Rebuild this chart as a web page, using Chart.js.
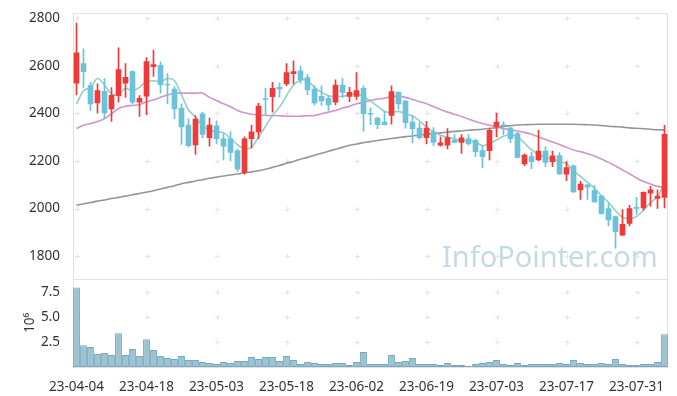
<!DOCTYPE html>
<html>
<head>
<meta charset="utf-8">
<script src="https://cdn.jsdelivr.net/npm/chart.js@4.4.0/dist/chart.umd.min.js"></script>
<style>
  html, body { margin: 0; padding: 0; background: #fff; }
  #wrap { width: 677px; height: 396px; }
</style>
</head>
<body>
<div id="wrap"><canvas id="stock-chart"></canvas></div>
<script>
const dates = [
  '23-04-04','23-04-05','23-04-06','23-04-07','23-04-10','23-04-11','23-04-12','23-04-13','23-04-14','23-04-17',
  '23-04-18','23-04-19','23-04-20','23-04-21','23-04-24','23-04-25','23-04-26','23-04-27','23-04-28','23-05-02',
  '23-05-03','23-05-04','23-05-08','23-05-09','23-05-10','23-05-11','23-05-12','23-05-15','23-05-16','23-05-17',
  '23-05-18','23-05-19','23-05-22','23-05-23','23-05-24','23-05-25','23-05-26','23-05-30','23-05-31','23-06-01',
  '23-06-02','23-06-05','23-06-07','23-06-08','23-06-09','23-06-12','23-06-13','23-06-14','23-06-15','23-06-16',
  '23-06-19','23-06-20','23-06-21','23-06-22','23-06-23','23-06-26','23-06-27','23-06-28','23-06-29','23-06-30',
  '23-07-03','23-07-04','23-07-05','23-07-06','23-07-07','23-07-10','23-07-11','23-07-12','23-07-13','23-07-14',
  '23-07-17','23-07-18','23-07-19','23-07-20','23-07-21','23-07-24','23-07-25','23-07-26','23-07-27','23-07-28',
  '23-07-31','23-08-01','23-08-02','23-08-03','23-08-04'
];
const xTickLabels = ['23-04-04','23-04-18','23-05-03','23-05-18','23-06-02','23-06-19','23-07-03','23-07-17','23-07-31'];
const priceTicks = [1800, 2000, 2200, 2400, 2600, 2800];
const volumeTicks = [2.5, 5.0, 7.5];

const open = [
  2527,2609,2517,2444,2492,2419,2474,2527,2575,2447, 2472,2596,2602,2522,2502,2422,2351,2267,2398,2298,
  2347,2293,2293,2243,2151,2294,2322,2462,2470,2510, 2523,2567,2578,2550,2502,2471,2463,2447,2519,2471,
  2471,2505,2400,2380,2363,2391,2488,2451,2363,2338, 2298,2322,2266,2266,2287,2278,2294,2287,2243,2243,
  2345,2352,2338,2315,2187,2218,2204,2241,2197,2222, 2144,2179,2078,2100,2077,2052,2000,1966,1888,1938,
  2005,2003,2065,2042,2047
];
const high = [
  2779,2671,2530,2524,2546,2508,2675,2609,2578,2474, 2634,2666,2616,2567,2512,2440,2377,2391,2405,2380,
  2368,2315,2322,2250,2301,2350,2442,2505,2530,2528, 2609,2620,2600,2564,2516,2516,2474,2541,2546,2509,
  2571,2516,2423,2383,2408,2516,2490,2456,2391,2361, 2366,2340,2301,2336,2311,2311,2311,2292,2266,2336,
  2401,2365,2340,2320,2230,2236,2329,2260,2241,2235, 2197,2183,2114,2102,2097,2054,2021,1968,1996,2013,
  2047,2070,2093,2079,2350
];
const low = [
  2477,2509,2412,2401,2377,2366,2447,2467,2440,2387, 2394,2555,2485,2440,2377,2269,2259,2227,2297,2262,
  2271,2204,2200,2156,2144,2255,2294,2395,2405,2468, 2516,2523,2527,2478,2435,2433,2412,2435,2467,2449,
  2458,2325,2352,2336,2350,2354,2416,2338,2276,2291, 2271,2264,2262,2250,2276,2232,2266,2218,2172,2204,
  2301,2310,2277,2213,2180,2167,2200,2176,2176,2143, 2117,2068,2038,2038,2026,1976,1927,1834,1886,1927,
  1975,1992,2010,2000,2003
];
const close = [
  2654,2575,2440,2496,2402,2476,2584,2551,2447,2463, 2617,2605,2519,2519,2419,2343,2264,2376,2311,2351,
  2294,2262,2236,2165,2293,2322,2430,2458,2505,2502, 2571,2575,2541,2498,2444,2452,2435,2519,2488,2488,
  2495,2398,2396,2352,2352,2491,2440,2361,2336,2298, 2338,2278,2276,2298,2278,2297,2273,2239,2218,2329,
  2363,2348,2294,2215,2225,2197,2241,2194,2221,2145, 2172,2070,2103,2090,2028,1978,1952,1903,1934,2000,
  2001,2068,2079,2052,2312
];
// volume, in millions
const volume = [
  8.0,2.2,2.0,1.3,1.4,1.2,3.4,1.2,1.8,1.1, 2.8,1.7,1.1,0.9,0.8,1.1,0.7,0.7,0.5,0.4,
  0.3,0.5,0.4,0.6,0.6,1.0,0.8,1.0,1.0,0.6, 1.1,0.7,0.3,0.5,0.4,0.3,0.3,0.4,0.4,0.2,
  0.5,1.5,0.3,0.3,0.3,1.2,0.5,0.6,0.9,0.3, 0.3,0.3,0.2,0.4,0.2,0.2,0.1,0.3,0.4,0.5,
  0.7,0.3,0.2,0.4,0.2,0.3,0.3,0.3,0.3,0.4, 0.3,0.7,0.4,0.3,0.3,0.4,0.3,0.8,0.3,0.2,
  0.2,0.3,0.3,0.5,3.3
];
const ma5 = [
  2440,2495,2509,2546,2519,2481,2481,2505,2495,2509, 2534,2537,2532,2546,2537,2478,2415,2384,2347,2329,
  2322,2319,2294,2268,2252,2257,2300,2345,2391,2426, 2474,2519,2539,2537,2509,2488,2474,2471,2471,2477,
  2481,2470,2452,2430,2408,2404,2408,2398,2390,2368, 2342,2322,2308,2300,2292,2286,2285,2279,2264,2274,
  2288,2304,2311,2300,2275,2246,2228,2214,2208,2198, 2188,2159,2135,2110,2085,2053,2026,1991,1964,1957,
  1966,1994,2025,2050,2105
];
const ma20 = [
  2336,2350,2357,2366,2377,2398,2420,2430,2433,2436, 2449,2456,2467,2477,2484,2485,2485,2485,2485,2467,
  2454,2440,2428,2412,2402,2396,2393,2391,2391,2390, 2388,2388,2388,2390,2391,2398,2405,2412,2422,2430,
  2440,2447,2454,2460,2463,2470,2471,2467,2458,2449, 2440,2428,2416,2405,2396,2387,2376,2366,2357,2350,
  2343,2336,2330,2326,2320,2312,2301,2290,2280,2269, 2257,2246,2239,2230,2221,2208,2194,2179,2162,2146,
  2128,2114,2103,2093,2089
];
const ma120 = [
  2014,2020,2025,2031,2036,2042,2047,2052,2058,2063, 2069,2075,2082,2089,2096,2104,2110,2116,2121,2127,
  2132,2137,2141,2145,2149,2154,2159,2165,2173,2181, 2190,2198,2207,2215,2224,2232,2241,2249,2257,2266,
  2271,2277,2281,2286,2290,2294,2298,2302,2305,2309, 2312,2315,2318,2321,2324,2326,2329,2331,2333,2337,
  2340,2345,2348,2351,2352,2353,2354,2354,2354,2354, 2354,2354,2353,2352,2351,2349,2346,2344,2342,2339,
  2337,2335,2333,2331,2330
];

const UP = '#f03a3a';
const DOWN = '#6cc3d9';
const candleColors = close.map((c, i) => c >= open[i] ? UP : DOWN);
const FONT = { family: "'Noto Sans', 'Open Sans', sans-serif", size: 13.5 };

const framePlugin = {
  id: 'frame',
  beforeDatasetsDraw(chart) {
    const { ctx, chartArea: a, scales } = chart;
    ctx.save();

    // watermark
    ctx.font = "100px 'Noto Sans', sans-serif";
    const w = ctx.measureText('InfoPointer.com').width;
    const size = 100 * 216 / w;
    ctx.font = size + "px 'Noto Sans', sans-serif";
    ctx.fillStyle = 'rgba(150, 188, 208, 0.55)';
    ctx.textBaseline = 'alphabetic';
    ctx.fillText('InfoPointer.com', 442, 267);

    // frame
    ctx.strokeStyle = '#e2e2e2';
    ctx.lineWidth = 1;
    ctx.strokeRect(a.left + 0.5, a.top + 0.5, a.right - a.left - 1, a.bottom - a.top);
    const sep = Math.round(scales.yv.top) + 0.5;
    ctx.beginPath();
    ctx.moveTo(a.left, sep);
    ctx.lineTo(a.right, sep);
    ctx.stroke();

    // small crosses at grid points
    ctx.strokeStyle = '#e4e4e4';
    const xs = xTickLabels.map(l => scales.x.getPixelForValue(dates.indexOf(l)));
    const ys = priceTicks.map(v => scales.y.getPixelForValue(v))
      .concat(volumeTicks.map(v => scales.yv.getPixelForValue(v)));
    ctx.beginPath();
    xs.forEach(x => {
      ys.forEach(y => {
        const px = Math.round(x) + 0.5, py = Math.round(y) + 0.5;
        ctx.moveTo(px - 2.5, py); ctx.lineTo(px + 2.5, py);
        ctx.moveTo(px, py - 2.5); ctx.lineTo(px, py + 2.5);
      });
    });
    ctx.stroke();
    ctx.restore();
  }
};

new Chart(document.getElementById('stock-chart'), {
  type: 'bar',
  data: {
    labels: dates,
    datasets: [
      {
        label: 'body',
        data: open.map((o, i) => [o, close[i]]),
        backgroundColor: candleColors,
        barThickness: 5,
        grouped: false,
        borderSkipped: false,
        yAxisID: 'y'
      },
      {
        label: 'wick',
        data: low.map((l, i) => [l, high[i]]),
        backgroundColor: candleColors,
        barThickness: 1,
        grouped: false,
        borderSkipped: false,
        yAxisID: 'y'
      },
      {
        type: 'line', label: 'MA5', data: ma5, yAxisID: 'y',
        borderColor: 'rgba(120, 196, 178, 0.8)', borderWidth: 1.6, pointRadius: 0, tension: 0.3
      },
      {
        type: 'line', label: 'MA20', data: ma20, yAxisID: 'y',
        borderColor: 'rgba(196, 120, 192, 0.8)', borderWidth: 1.6, pointRadius: 0, tension: 0.3
      },
      {
        type: 'line', label: 'MA120', data: ma120, yAxisID: 'y',
        borderColor: 'rgba(130, 130, 130, 0.85)', borderWidth: 1.6, pointRadius: 0, tension: 0.3
      },
      {
        label: 'Volume',
        data: volume,
        yAxisID: 'yv',
        backgroundColor: '#9dc2d2',
        borderColor: '#76a6bc',
        borderWidth: 1,
        borderSkipped: false,
        barPercentage: 1,
        categoryPercentage: 0.98,
        grouped: false
      }
    ]
  },
  options: {
    responsive: true,
    maintainAspectRatio: false,
    animation: false,
    layout: { padding: { left: 0, right: 9, top: 10, bottom: 0 } },
    plugins: {
      legend: { display: false },
      tooltip: { enabled: false }
    },
    scales: {
      x: {
        offset: true,
        grid: { display: false },
        border: { display: false },
        afterFit: s => { s.height = 29; },
        ticks: {
          autoSkip: false,
          maxRotation: 0,
          padding: 4,
          color: '#333',
          font: FONT,
          callback: function (val) {
            const l = this.getLabelForValue(val);
            return xTickLabels.includes(l) ? l : '';
          }
        }
      },
      yv: {
        position: 'left',
        stack: 'panels',
        stackWeight: 1,
        min: 0,
        max: 8.9,
        grid: { display: false },
        border: { display: false },
        afterFit: s => { s.width = 73; },
        afterBuildTicks: s => { s.ticks = volumeTicks.map(v => ({ value: v })); },
        ticks: { color: '#333', font: FONT, padding: 5, callback: v => v.toFixed(1) },
        title: { display: true, text: '10⁶', color: '#333', font: FONT, padding: { top: 22, bottom: 0 } }
      },
      y: {
        position: 'left',
        stack: 'panels',
        stackWeight: 3,
        min: 1706,
        max: 2821,
        grid: { display: false },
        border: { display: false },
        afterFit: s => { s.width = 73; },
        afterBuildTicks: s => { s.ticks = priceTicks.map(v => ({ value: v })); },
        ticks: { color: '#333', font: FONT, padding: 5, callback: v => String(v) }
      }
    }
  },
  plugins: [framePlugin]
});
</script>
</body>
</html>
